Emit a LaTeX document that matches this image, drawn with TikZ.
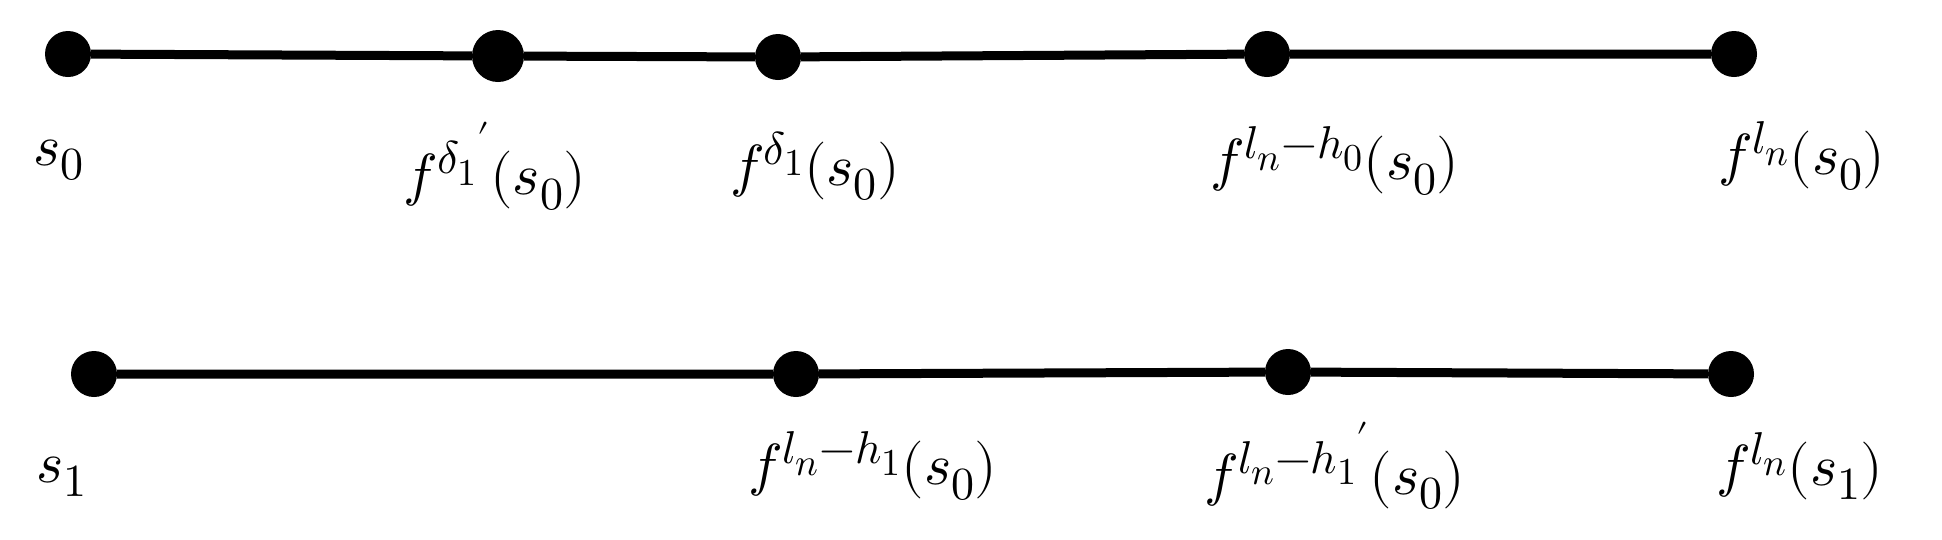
\documentclass[tikz,border=0pt]{standalone}
\usepackage{amsmath}
\usepackage{unicode-math}
\setmathfont{Latin Modern Math}
\DeclareMathSizes{58}{58}{46}{38}
\begin{document}
\begin{tikzpicture}[x=1pt,y=-1pt,
  dot/.style={circle,fill=black,inner sep=0pt,minimum size=46pt},
  bigdot/.style={circle,fill=black,inner sep=0pt,minimum size=52pt},
  seg/.style={line width=9pt},
  lab/.style={font=\fontsize{58}{66}\selectfont}]
\useasboundingbox (0,0) rectangle (1942,539);
\node[dot] (a0) at (68,54) {};
\node[bigdot] (a1) at (498,56) {};
\node[dot] (a2) at (778,57) {};
\node[dot] (a3) at (1267,54) {};
\node[dot] (a4) at (1734,54) {};
\draw[seg] (a0) -- (a1) -- (a2) -- (a3) -- (a4);
\node[dot] (b0) at (94,374) {};
\node[dot] (b1) at (796,374) {};
\node[dot] (b2) at (1288,372) {};
\node[dot] (b3) at (1731,374) {};
\draw[seg] (b0) -- (b1) -- (b2) -- (b3);
\node[lab] (la0) at (59,160) {$s_0$};
\node[lab] (la1) at (495,166) {$f^{{\delta_1}'}\!\left(s_0\right)$};
\node[lab] (la2) at (815,166) {$f^{\delta_1}\!\left(s_0\right)$};
\node[lab] (la3) at (1335,161) {$f^{l_n-h_0}\!\left(s_0\right)$};
\node[lab] (la4) at (1802,156) {$f^{l_n}\!\left(s_0\right)$};
\node[lab] (lb0) at (62,477) {$s_1$};
\node[lab] (lb1) at (873,466) {$f^{l_n-h_1}\!\left(s_0\right)$};
\node[lab] (lb2) at (1335,466) {$f^{l_n-{h_1}'}\!\left(s_0\right)$};
\node[lab] (lb3) at (1800,466) {$f^{l_n}\!\left(s_1\right)$};
\end{tikzpicture}
\end{document}
